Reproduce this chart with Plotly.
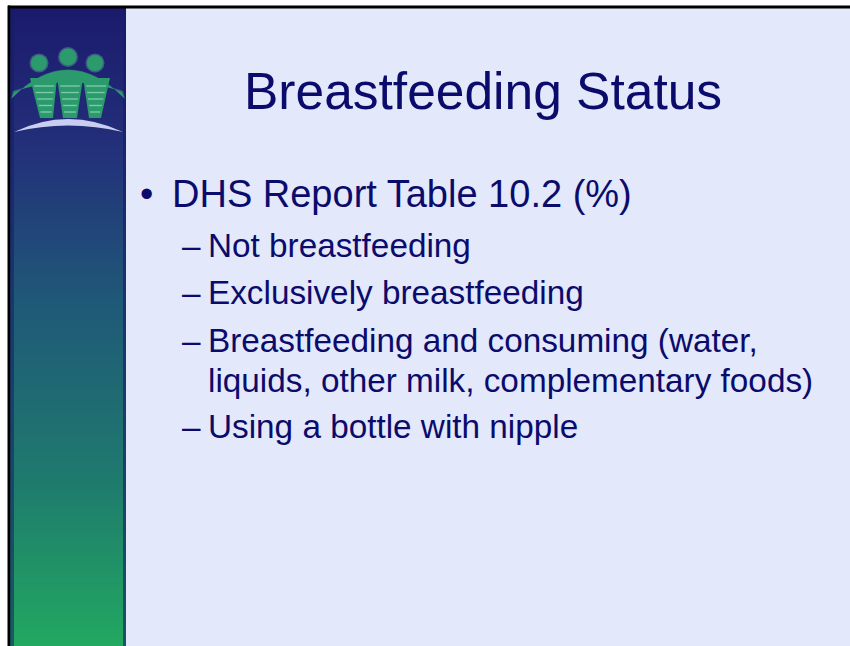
import plotly.graph_objects as go

# ---- slide content ----
title_text = "Breastfeeding Status"
bullet_text = "DHS Report Table 10.2 (%)"
sub_items = [
    ["Not breastfeeding"],
    ["Exclusively breastfeeding"],
    ["Breastfeeding and consuming (water,", "liquids, other milk, complementary foods)"],
    ["Using a bottle with nipple"],
]

W, H = 850, 646
TEXT_COLOR = "#0b0b6c"
FONT = "Liberation Sans, Arial, sans-serif"
BG = "#e3e8fa"

shapes = []

# slide background
shapes.append(dict(type="rect", x0=10, x1=W, y0=8, y1=H, fillcolor=BG, line_width=0, layer="below"))

# left gradient bar
stops = [(8, (27, 26, 108)), (150, (35, 48, 122)), (300, (31, 88, 120)),
         (480, (31, 122, 110)), (646, (34, 168, 96))]

def col_at(y):
    for (ya, ca), (yb, cb) in zip(stops[:-1], stops[1:]):
        if ya <= y <= yb:
            t = (y - ya) / (yb - ya)
            return "rgb(%d,%d,%d)" % tuple(round(a + (b - a) * t) for a, b in zip(ca, cb))
    return "rgb(%d,%d,%d)" % stops[-1][1]

step = 3
y = 8
while y < H:
    shapes.append(dict(type="rect", x0=10, x1=126, y0=y, y1=min(y + step + 0.6, H),
                       fillcolor=col_at(y + step / 2), line_width=0, layer="below"))
    y += step
# darker edge strips of the bar
shapes.append(dict(type="rect", x0=10, x1=14, y0=8, y1=H, fillcolor="rgba(20,30,100,0.55)", line_width=0, layer="below"))
shapes.append(dict(type="rect", x0=123, x1=126, y0=8, y1=H, fillcolor="rgba(20,30,100,0.6)", line_width=0, layer="below"))

# black slide border (top and left)
shapes.append(dict(type="rect", x0=8, x1=W, y0=5.5, y1=8.5, fillcolor="black", line_width=0))
shapes.append(dict(type="rect", x0=7.5, x1=10.2, y0=5.5, y1=H, fillcolor="black", line_width=0))

# ---- logo ----
G = "#2b9a6c"
GL = "#7ccaa9"
GLOW = "rgba(120,200,170,0.35)"
# heads
for cx, cy, r in [(39, 63, 8), (68, 57, 8.5), (95, 63, 8)]:
    shapes.append(dict(type="circle", x0=cx - r - 1.5, x1=cx + r + 1.5, y0=cy - r - 1.5, y1=cy + r + 1.5,
                       fillcolor=GLOW, line_width=0))
    shapes.append(dict(type="circle", x0=cx - r, x1=cx + r, y0=cy - r, y1=cy + r, fillcolor=G, line_width=0))
# arms arch
shapes.append(dict(type="path", path="M 11 99 Q 68 40 125 99 L 123 91 Q 68 70 13 91 Z",
                   fillcolor=GLOW, line_width=0))
shapes.append(dict(type="path", path="M 12 98 Q 68 42 124 98 L 122 92 Q 68 72 14 92 Z",
                   fillcolor=G, line_width=0))
# bodies
for xl, xr, bl, br in [(30, 57, 40, 53), (57, 83, 63, 77), (83, 110, 89, 101)]:
    shapes.append(dict(type="path", path=f"M {xl} 78 L {xr} 78 L {br} 118 L {bl} 118 Z",
                       fillcolor=G, line_width=0))
    for k in range(5):
        yy = 86 + k * 6.5
        t = (yy - 78) / 40
        x0 = xl + (bl - xl) * t + 2
        x1 = xr + (br - xr) * t - 2
        shapes.append(dict(type="line", x0=x0, x1=x1, y0=yy, y1=yy, line=dict(color=GL, width=1.4)))
# bottom arc
shapes.append(dict(type="path", path="M 14 132 Q 68 106 123 132 Q 68 119 14 132 Z",
                   fillcolor="#c9cdf2", line_width=0))

annotations = []

def add_text(txt, x, y_mid, size, xanchor="left"):
    annotations.append(dict(text=txt, x=x, y=y_mid, xref="x", yref="y", showarrow=False,
                            xanchor=xanchor, yanchor="middle",
                            font=dict(family=FONT, size=size, color=TEXT_COLOR)))

# title
TS = 51.5
add_text(title_text, 482.5, 109 - 0.3465 * TS, TS, xanchor="center")

# main bullet
BS = 38
add_text("\u2022", 138, 207 - 0.3465 * BS, BS)
add_text(bullet_text, 170, 207 - 0.3465 * BS, BS)

# sub items
SS = 33.3
baselines = [[257], [304], [352, 392], [438]]
for lines, bls in zip(sub_items, baselines):
    add_text("\u2013", 180, bls[0] - 0.3465 * SS, SS)
    for ln, bl in zip(lines, bls):
        add_text(ln, 206, bl - 0.3465 * SS, SS)

fig = go.Figure()
fig.add_trace(go.Scatter(x=[0, W], y=[0, H], mode="markers", marker=dict(opacity=0), hoverinfo="skip"))
fig.update_layout(
    width=W, height=H, margin=dict(l=0, r=0, t=0, b=0),
    paper_bgcolor="white", plot_bgcolor="white", showlegend=False,
    xaxis=dict(range=[0, W], visible=False, fixedrange=True),
    yaxis=dict(range=[H, 0], visible=False, fixedrange=True),
    shapes=shapes, annotations=annotations,
)
fig.write_html(
    "out.html",
    config={"displayModeBar": False},
    post_script="document.body.style.margin='0';document.body.style.overflow='hidden';",
)
